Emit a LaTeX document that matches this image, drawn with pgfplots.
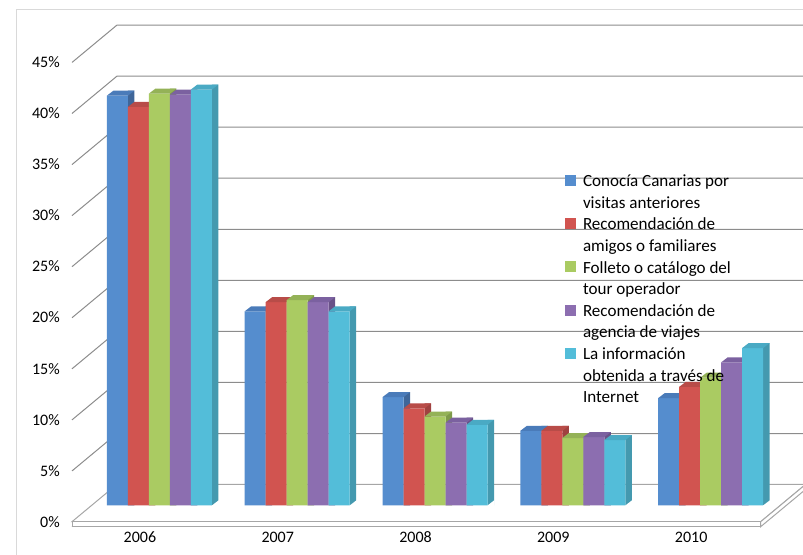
\documentclass[border=0pt]{standalone}
\usepackage{fontspec}
\setmainfont{Carlito}
\usepackage{pgfplots}
\usepackage{pgfplotstable}
\pgfplotsset{compat=1.18}

% front / top / side shades of the five series
\definecolor{blueF}{HTML}{558DCE}\definecolor{blueT}{HTML}{4A7BB9}\definecolor{blueS}{HTML}{3F6699}
\definecolor{redF}{HTML}{D15450}\definecolor{redT}{HTML}{B84C48}\definecolor{redS}{HTML}{A04140}
\definecolor{greenF}{HTML}{AACB62}\definecolor{greenT}{HTML}{94B257}\definecolor{greenS}{HTML}{7E9A4A}
\definecolor{purpF}{HTML}{8C6EB0}\definecolor{purpT}{HTML}{7B61A0}\definecolor{purpS}{HTML}{695288}
\definecolor{cyanF}{HTML}{53BDD9}\definecolor{cyanT}{HTML}{4AAAC4}\definecolor{cyanS}{HTML}{4499AF}
\definecolor{gridc}{HTML}{8C8C8C}
\definecolor{floorc}{HTML}{A6A6A6}
\definecolor{framec}{HTML}{D9D9D9}

% top face of a bar, drawn at the front top centre of the bar
\pgfdeclareplotmark{topface}{%
  \pgfpathmoveto{\pgfpoint{-7.875pt}{0pt}}%
  \pgfpathlineto{\pgfpoint{7.875pt}{0pt}}%
  \pgfpathlineto{\pgfpoint{12.75pt}{3.75pt}}%
  \pgfpathlineto{\pgfpoint{-3pt}{3.75pt}}%
  \pgfpathclose\pgfusepath{fill}}
% cuts the slanted foot of the last side face
\pgfdeclareplotmark{floorfix}{%
  \pgfpathmoveto{\pgfpoint{0pt}{0pt}}%
  \pgfpathlineto{\pgfpoint{4.875pt}{3.75pt}}%
  \pgfpathlineto{\pgfpoint{5.3pt}{3.75pt}}%
  \pgfpathlineto{\pgfpoint{5.3pt}{-0.6pt}}%
  \pgfpathlineto{\pgfpoint{0pt}{-0.6pt}}%
  \pgfpathclose\pgfusepath{fill}}

% share of visitors (%) by year: a=visitas anteriores, b=amigos,
% c=folleto, d=agencia, e=Internet
\pgfplotstableread{
i a    b    c    d    e
0 40.1 39.0 40.3 40.2 40.7
1 19.0 19.9 20.1 19.9 19.0
2 10.6 9.5  8.7  8.1  7.9
3 7.3  7.3  6.6  6.7  6.4
4 10.5 11.6 12.5 14.0 15.4
}\data

\begin{document}
\begin{tikzpicture}
% back wall, side wall and floor, in pixels from the top left corner
\begin{scope}[x=0.75pt,y=-0.75pt,shift={(0pt,416.25pt)}]
  \clip (0,0) rectangle (803,555);
  \draw[framec, line width=0.75pt] (16,560) -- (16,10) -- (810,10);
  \foreach \k in {1,...,9}{
    \draw[gridc, line width=0.75pt] (72,522-51.06*\k) -- (117,484.6-51.06*\k) -- (810,484.6-51.06*\k);
  }
  \draw[floorc, line width=0.75pt] (117,489.3) -- (810,489.3);
  \draw[floorc, line width=0.75pt] (72,526.7) -- (117,489.3);
  \filldraw[fill=white, draw=floorc, line width=0.75pt]
    (72,521.7) -- (760.7,521.7) -- (805.7,484.3) -- (117,484.3) -- cycle;
  \filldraw[fill=white, draw=floorc, line width=0.75pt]
    (72,521.7) rectangle (760.7,526.7);
  \filldraw[fill=white, draw=floorc, line width=0.75pt]
    (760.7,521.7) -- (805.7,484.3) -- (805.7,489.3) -- (760.7,526.7) -- cycle;
\end{scope}

\begin{axis}[
  at={(0pt,0pt)}, anchor=south west,
  scale only axis, width=602.25pt, height=416.25pt,
  xmin=-1.15675, xmax=4.67054,
  ymin=-4.8434, ymax=49.4618,
  axis line style={draw=none},
  major tick length=0pt,
  tick style={draw=none},
  clip marker paths=true,
  xtick={0,1,2,3,4},
  xticklabels={2006,2007,2008,2009,2010},
  ytick={0,5,10,15,20,25,30,35,40,45},
  yticklabels={0\%,5\%,10\%,15\%,20\%,25\%,30\%,35\%,40\%,45\%},
  tick label style={font=\fontsize{12}{14}\selectfont, text=black},
  yticklabel style={anchor=east, inner sep=0pt, xshift=45pt, yshift=-12.375pt},
  xticklabel style={anchor=center, inner sep=0pt, xshift=-14.6pt, yshift=13.5pt},
  legend style={draw=none, fill=none, at={(0.70361,0.69081)}, anchor=north west,
    inner sep=0pt, outer sep=0pt, row sep=0pt, column sep=0pt,
    cells={anchor=north west, align=left},
    nodes={inner sep=0pt, outer sep=0pt, text depth={}, font=\fontsize{12.8}{16.2}\selectfont}},
  legend image code/.code={\path (0pt,0pt) (13.5pt,0pt);
    \fill[#1] (0pt,-10.84pt) rectangle (8.6pt,-2.54pt);},
]
% Conocía Canarias por visitas anteriores
\addplot[ybar, bar width=0.04717, bar shift=0pt, fill=blueS, draw=none, forget plot]
  table[x expr=\thisrow{i}-0.20501, y expr=\thisrow{a}+0.4892] {\data};
\addplot[ybar, bar width=0.152395, bar shift=0pt, fill=blueF, draw=none]
  table[x expr=\thisrow{i}-0.30479, y=a] {\data};
\addlegendentry{\strut Conocía Canarias por\\\strut visitas anteriores}
\addplot[only marks, mark=topface, color=blueT, forget plot]
  table[x expr=\thisrow{i}-0.30479, y=a] {\data};

% Recomendación de amigos o familiares
\addplot[ybar, bar width=0.04717, bar shift=0pt, fill=redS, draw=none, forget plot]
  table[x expr=\thisrow{i}-0.05262, y expr=\thisrow{b}+0.4892] {\data};
\addplot[ybar, bar width=0.152395, bar shift=0pt, fill=redF, draw=none]
  table[x expr=\thisrow{i}-0.15240, y=b] {\data};
\addlegendentry{\strut Recomendación de\\\strut amigos o familiares}
\addplot[only marks, mark=topface, color=redT, forget plot]
  table[x expr=\thisrow{i}-0.15240, y=b] {\data};

% Folleto o catálogo del tour operador
\addplot[ybar, bar width=0.04717, bar shift=0pt, fill=greenS, draw=none, forget plot]
  table[x expr=\thisrow{i}+0.09978, y expr=\thisrow{c}+0.4892] {\data};
\addplot[ybar, bar width=0.152395, bar shift=0pt, fill=greenF, draw=none]
  table[x=i, y=c] {\data};
\addlegendentry{\strut Folleto o catálogo del\\\strut tour operador}
\addplot[only marks, mark=topface, color=greenT, forget plot]
  table[x=i, y=c] {\data};

% Recomendación de agencia de viajes
\addplot[ybar, bar width=0.04717, bar shift=0pt, fill=purpS, draw=none, forget plot]
  table[x expr=\thisrow{i}+0.25218, y expr=\thisrow{d}+0.4892] {\data};
\addplot[ybar, bar width=0.152395, bar shift=0pt, fill=purpF, draw=none]
  table[x expr=\thisrow{i}+0.15240, y=d] {\data};
\addlegendentry{\strut Recomendación de\\\strut agencia de viajes}
\addplot[only marks, mark=topface, color=purpT, forget plot]
  table[x expr=\thisrow{i}+0.15240, y=d] {\data};

% La información obtenida a través de Internet
\addplot[ybar, bar width=0.04717, bar shift=0pt, fill=cyanS, draw=none, forget plot]
  table[x expr=\thisrow{i}+0.40457, y expr=\thisrow{e}+0.4892] {\data};
\addplot[ybar, bar width=0.152395, bar shift=0pt, fill=cyanF, draw=none]
  table[x expr=\thisrow{i}+0.30479, y=e] {\data};
\addlegendentry{\strut La información\\\strut obtenida a través de\\\strut Internet}
\addplot[only marks, mark=topface, color=cyanT, forget plot]
  table[x expr=\thisrow{i}+0.30479, y=e] {\data};
\addplot[only marks, mark=floorfix, color=white, forget plot]
  table[x expr=\thisrow{i}+0.38099, y expr=0] {\data};
\end{axis}
\pgfresetboundingbox
\useasboundingbox (0pt,0pt) rectangle (602.25pt,416.25pt);
\end{tikzpicture}
\end{document}
